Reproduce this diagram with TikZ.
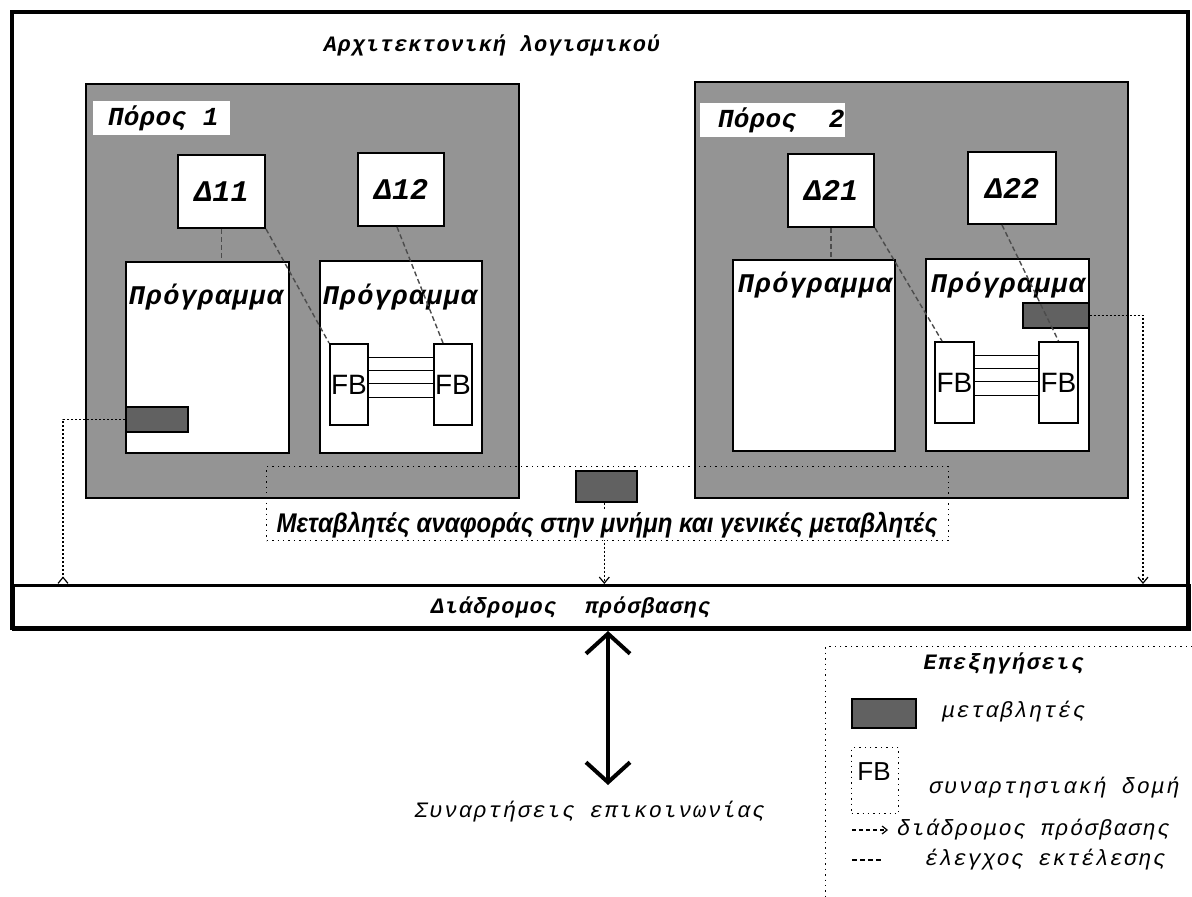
\documentclass[tikz,border=0pt]{standalone}
\usepackage{fontspec}
\usepackage{tikz}
\usetikzlibrary{arrows.meta}

\newfontfamily\grmono{Liberation Mono}
\newfontfamily\grsans{Liberation Sans}

\tikzset{
  pool/.style={draw, line width=1pt, fill=black!42, anchor=north west, inner sep=0pt},
  wbox/.style={draw, line width=1pt, fill=white, anchor=north west, inner sep=0pt},
  var/.style={draw, line width=0.8pt, fill=black!62, anchor=north west, inner sep=0pt},
  ctrl/.style={dash pattern=on 2.5pt off 1.5pt, black!70, line width=0.7pt},
  access/.style={dash pattern=on 1pt off 1pt, line width=0.6pt, -{Straight Barb[length=3pt,width=5pt]}},
  gr/.style 2 args={font=\grmono\itshape\fontsize{#1}{#1}\selectfont\addfontfeature{LetterSpace=#2}},
  grb/.style 2 args={font=\grmono\itshape\bfseries\fontsize{#1}{#1}\selectfont\addfontfeature{LetterSpace=#2}},
  fbtext/.style={font=\grsans\fontsize{14}{14}\selectfont},
}

\begin{document}
\begin{tikzpicture}[x=0.5pt, y=-0.5pt]
  \clip (0,0) rectangle (1192,897);

  % outer frame and bus
  \node[draw, line width=1.5pt, anchor=north west, minimum width=588pt, minimum height=22pt] (bus) at (12,584) {};
  \draw[line width=2pt] (12,12) rectangle (1188,628);
  \node[grb={11}{4}] (bust) at (571,607) {Διάδρομος\ \ πρόσβασης};
  \node[grb={11}{4}] (title) at (492,45) {Αρχιτεκτονική λογισμικού};

  % resources
  \node[pool, minimum width=216.5pt, minimum height=207pt] (P1) at (85,83) {};
  \node[pool, minimum width=216.5pt, minimum height=208pt] (P2) at (694,81) {};
  \node[fill=white, anchor=north west, minimum width=68.5pt, minimum height=17pt, inner sep=0pt] (L1) at (93,101) {};
  \node[fill=white, anchor=north west, minimum width=72.5pt, minimum height=17pt, inner sep=0pt] (L2) at (700,103) {};
  \node[grb={13}{1}, anchor=west] (L1t) at (101,118) {Πόρος 1};
  \node[grb={13}{1}, anchor=west] (L2t) at (711,120) {Πόρος\ \ 2};

  % tasks
  \node[wbox, grb={15}{0}, minimum width=43.5pt, minimum height=36.5pt] (D11) at (177,154) {Δ11};
  \node[wbox, grb={15}{0}, minimum width=43pt, minimum height=36.5pt] (D12) at (357,152) {Δ12};
  \node[wbox, grb={15}{0}, minimum width=43pt, minimum height=36.5pt] (D21) at (787,153) {Δ21};
  \node[wbox, grb={15}{0}, minimum width=44pt, minimum height=36pt] (D22) at (967,151) {Δ22};

  % programs
  \node[wbox, minimum width=81.5pt, minimum height=95.5pt] (P11) at (125,261) {};
  \node[wbox, minimum width=81pt, minimum height=96pt] (P12) at (319,260) {};
  \node[wbox, minimum width=81pt, minimum height=95.5pt] (P21) at (732,259) {};
  \node[wbox, minimum width=81.5pt, minimum height=96pt] (P22) at (925,258) {};
  \node[grb={13.5}{4}] (P11t) at (206,297) {Πρόγραμμα};
  \node[grb={13.5}{4}] (P12t) at (400,297) {Πρόγραμμα};
  \node[grb={13.5}{4}] (P21t) at (815,285) {Πρόγραμμα};
  \node[grb={13.5}{4}] (P22t) at (1008,285) {Πρόγραμμα};

  % function blocks
  \node[wbox, fbtext, minimum width=19pt, minimum height=40.5pt] (FB11) at (329,343) {FB};
  \node[wbox, fbtext, minimum width=19pt, minimum height=40.5pt] (FB12) at (433,343) {FB};
  \node[wbox, fbtext, minimum width=19.5pt, minimum height=40.5pt] (FB21) at (934,341) {FB};
  \node[wbox, fbtext, minimum width=19.5pt, minimum height=40.5pt] (FB22) at (1038,341) {FB};
  \foreach \dy in {13.5pt,7pt,0.5pt,-6.5pt} {
    \draw[line width=0.8pt] ([yshift=\dy]FB11.east) -- ([yshift=\dy]FB12.west);
    \draw[line width=0.8pt] ([yshift=\dy]FB21.east) -- ([yshift=\dy]FB22.west);
  }

  % variables
  \node[var, minimum width=31pt, minimum height=12.5pt] (V1) at (125,406) {};
  \node[var, minimum width=33pt, minimum height=12.5pt] (V2) at (1022,302) {};
  \node[draw, dotted, line width=0.7pt, anchor=north west, minimum width=341pt, minimum height=37pt, inner sep=0pt] (VG) at (266,466) {};
  \node[var, minimum width=30.5pt, minimum height=15.5pt] (V0) at (575,470) {};

  % execution control
  \draw[ctrl] (D11.south) -- (D11.south |- P11.north);
  \draw[ctrl] (D11.south east) -- (FB11.north west);
  \draw[ctrl] ([xshift=-2pt]D12.south) -- ([xshift=5pt]FB12.north west);
  \draw[ctrl] (D21.south) -- (D21.south |- P21.north);
  \draw[ctrl] (D21.south east) -- ([xshift=4pt]FB21.north west);
  \draw[ctrl] ([xshift=-5pt]D22.south) -- (FB22.north);

  % access paths
  \coordinate (A1) at (63,584);
  \coordinate (A2) at (1143,584);
  \draw[access, -{Straight Barb[reversed,length=3pt,width=5pt]}] (V1.west) -| (A1);
  \draw[access] ([xshift=-1pt]V0.south) -- ([xshift=-1pt]V0.south |- bus.north);
  \draw[access] (V2.east) -| (A2);
  \node[font=\grsans\itshape\bfseries\fontsize{13.5}{13.5}\selectfont\addfontfeature{FakeStretch=0.89}, fill=white, inner sep=1pt] (VGt) at (607,525) {Μεταβλητές αναφοράς στην μνήμη και γενικές μεταβλητές};

  % communication
  \coordinate (C2) at (608,785);
  \draw[line width=2pt, {Straight Barb[length=10pt,width=22pt]}-{Straight Barb[length=10pt,width=22pt]}] (bus.south -| C2) -- (C2);
  \node[gr={11}{7}] (Ct) at (590,812) {Συναρτήσεις επικοινωνίας};

  % legend
  \node[draw, dotted, line width=0.7pt, anchor=north west, minimum width=190pt, minimum height=130pt, inner sep=0pt] (leg) at (825,646) {};
  \node[grb={11}{7}] (legt) at (1004,663) {Επεξηγήσεις};
  \node[var, minimum width=32pt, minimum height=14.5pt] (legv) at (851,698) {};
  \node[gr={11}{6}, anchor=west] (legvt) at (935,712) {μεταβλητές};
  \node[draw, dotted, line width=0.7pt, anchor=north west, minimum width=23.5pt, minimum height=33pt, inner sep=0pt] (legfb) at (851,747) {};
  \node[font=\grsans\fontsize{13}{13}\selectfont] (legfbt) at (874,772) {FB};
  \node[gr={11}{8}, anchor=west] (legst) at (922,788) {συναρτησιακή δομή};
  \coordinate (la1) at (852,830);
  \coordinate (la2) at (888,830);
  \draw[dash pattern=on 2pt off 1.5pt, line width=0.6pt, -{Straight Barb[length=2.5pt,width=4pt]}] (la1) -- (la2);
  \node[gr={11}{6}, anchor=west] (legat) at (890,830) {διάδρομος πρόσβασης};
  \coordinate (lc1) at (852,860);
  \coordinate (lc2) at (882,860);
  \draw[dash pattern=on 2.5pt off 1.5pt, line width=0.6pt] (lc1) -- (lc2);
  \node[gr={11}{5}, anchor=west] (legct) at (918,860) {έλεγχος εκτέλεσης};
\end{tikzpicture}
\end{document}
